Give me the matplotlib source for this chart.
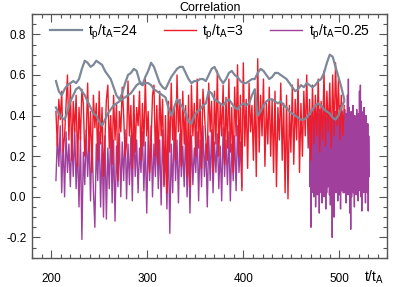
import numpy as np
import matplotlib
matplotlib.use("Agg")
import matplotlib.pyplot as plt
from matplotlib.ticker import MultipleLocator

plt.rcParams['font.family'] = ['Liberation Sans', 'DejaVu Sans']
plt.rcParams['mathtext.fontset'] = 'custom'
plt.rcParams['mathtext.rm'] = 'Liberation Sans'
plt.rcParams['mathtext.it'] = 'Liberation Sans'
plt.rcParams['mathtext.default'] = 'regular'

# ---- data ----
# t_p/t_A = 24 : two slow runs, sampled every 3 t_A from 205 to 505
gray_t0, gray_t1 = 205, 505
gray_a = [0.57, 0.52, 0.50, 0.53, 0.55, 0.56, 0.57, 0.56, 0.58, 0.63,
          0.67, 0.66, 0.64, 0.65, 0.67, 0.66, 0.65, 0.62, 0.60, 0.58,
          0.54, 0.50, 0.48, 0.51, 0.56, 0.60, 0.61, 0.63, 0.62, 0.57,
          0.55, 0.59, 0.62, 0.66, 0.64, 0.60, 0.56, 0.54, 0.53, 0.56,
          0.59, 0.61, 0.63, 0.64, 0.64, 0.61, 0.58, 0.56, 0.57, 0.57,
          0.58, 0.58, 0.57, 0.60, 0.63, 0.64, 0.61, 0.58, 0.56, 0.58,
          0.61, 0.62, 0.60, 0.59, 0.57, 0.56, 0.56, 0.57, 0.58, 0.58,
          0.61, 0.63, 0.62, 0.60, 0.58, 0.59, 0.61, 0.61, 0.60, 0.59,
          0.58, 0.56, 0.54, 0.52, 0.53, 0.55, 0.54, 0.56, 0.55, 0.54,
          0.55, 0.57, 0.58, 0.61, 0.66, 0.70, 0.69, 0.64, 0.59, 0.54,
          0.48]
gray_b = [0.44, 0.41, 0.39, 0.38, 0.42, 0.47, 0.50, 0.53, 0.54, 0.52,
          0.50, 0.47, 0.44, 0.41, 0.40, 0.37, 0.35, 0.38, 0.41, 0.43,
          0.45, 0.46, 0.47, 0.48, 0.49, 0.50, 0.51, 0.53, 0.55, 0.56,
          0.55, 0.56, 0.56, 0.55, 0.53, 0.52, 0.51, 0.50, 0.49, 0.44,
          0.40, 0.44, 0.48, 0.46, 0.44, 0.41, 0.37, 0.36, 0.40, 0.42,
          0.43, 0.45, 0.46, 0.52, 0.51, 0.48, 0.47, 0.46, 0.45, 0.47,
          0.48, 0.46, 0.44, 0.43, 0.45, 0.46, 0.45, 0.46, 0.50, 0.53,
          0.40, 0.42, 0.45, 0.47, 0.48, 0.48, 0.47, 0.46, 0.47, 0.45,
          0.44, 0.42, 0.41, 0.40, 0.39, 0.38, 0.38, 0.39, 0.41, 0.43,
          0.45, 0.46, 0.45, 0.43, 0.42, 0.41, 0.39, 0.38, 0.40, 0.44,
          0.47]

# t_p/t_A = 3 : sampled every 1.5 t_A from 205 to 505
red_t0, red_t1 = 205, 505
red = [0.42, 0.25, 0.48, 0.38, 0.52, 0.22, 0.30, 0.45, 0.60, 0.28,
       0.55, 0.18, 0.47, 0.32, 0.50, 0.15, 0.44, 0.28, 0.53, 0.46,
       0.20, 0.30, 0.56, 0.22, 0.42, 0.12, 0.50, 0.34, 0.46, 0.18,
       0.52, 0.26, 0.44, 0.10, 0.28, 0.48, 0.55, 0.24, 0.40, 0.16,
       0.50, 0.28, 0.46, 0.08, 0.42, 0.32, 0.54, 0.40, 0.20, 0.26,
       0.57, 0.30, 0.45, 0.14, 0.50, 0.22, 0.44, 0.35, 0.52, 0.18,
       0.46, 0.25, 0.58, 0.30, 0.42, 0.12, 0.26, 0.50, 0.55, 0.20,
       0.45, 0.16, 0.52, 0.30, 0.48, 0.05, 0.40, 0.02, 0.47, 0.22,
       0.56, 0.28, 0.44, 0.18, 0.60, 0.32, 0.48, 0.15, 0.52, 0.26,
       0.45, 0.10, 0.50, 0.05, 0.55, 0.30, 0.46, 0.20, 0.58, 0.24,
       0.48, 0.14, 0.53, 0.42, 0.28, 0.18, 0.56, 0.32, 0.47, 0.12,
       0.52, 0.26, 0.62, 0.20, 0.46, 0.30, 0.55, 0.16, 0.49, 0.24,
       0.58, 0.22, 0.44, 0.12, 0.54, 0.30, 0.65, 0.20, 0.50, 0.03,
       0.66, 0.25, 0.48, 0.14, 0.56, 0.32, 0.45, 0.18, 0.52, 0.10,
       0.68, 0.22, 0.50, 0.30, 0.58, 0.15, 0.46, 0.26, 0.54, 0.20,
       0.48, 0.12, 0.52, 0.05, 0.44, 0.28, 0.56, 0.18, 0.46, 0.02,
       0.50, -0.01, 0.45, 0.22, 0.55, 0.16, 0.48, 0.28, 0.58, 0.12,
       0.46, 0.20, 0.52, 0.30, 0.60, 0.24, 0.48, 0.18, 0.55, 0.26,
       0.50, 0.30, 0.58, 0.22, 0.47, 0.28, 0.62, 0.25, 0.52, 0.32,
       0.56, 0.24, 0.60, 0.30, 0.66, 0.35, 0.58, 0.28, 0.50, 0.30,
       0.45]

# t_p/t_A = 0.25 : first stretch every 1.5 t_A (205 to 398.5)
purple_t0, purple_t1 = 205, 398.5
purple = [0.08, 0.30, 0.15, 0.35, 0.02, 0.28, 0.00, 0.32, 0.12, 0.26,
          0.05, 0.30, 0.10, 0.34, 0.04, 0.25, -0.05, 0.30, -0.21, 0.22,
          0.06, 0.33, 0.10, 0.28, -0.02, 0.30, 0.03, -0.15, 0.26, 0.08,
          0.32, -0.05, 0.27, -0.10, 0.30, -0.11, 0.24, 0.04, 0.34, -0.03,
          0.28, -0.12, 0.25, 0.05, 0.31, 0.00, 0.27, 0.08, 0.33, -0.01,
          0.26, 0.06, 0.30, -0.02, 0.35, 0.10, 0.28, 0.02, 0.24, 0.12,
          0.32, 0.03, 0.27, -0.08, 0.30, 0.08, 0.35, 0.00, 0.26, 0.10,
          0.31, 0.04, 0.28, -0.04, 0.33, 0.06, 0.24, -0.06, 0.30, -0.18,
          0.26, 0.02, 0.34, 0.08, 0.28, -0.03, 0.31, 0.10, 0.25, 0.05,
          0.33, 0.00, 0.27, -0.08, 0.30, 0.06, 0.24, 0.12, 0.32, -0.02,
          0.28, 0.05, 0.35, 0.10, 0.26, -0.05, 0.30, 0.08, 0.33, 0.02,
          0.27, 0.12, 0.31, 0.04, 0.25, -0.02, 0.34, 0.10, 0.28, 0.06,
          0.32, -0.02, 0.26, 0.08, 0.30, 0.03, 0.35, 0.12, 0.27, 0.05]

# fast-sampled stretch (469 to 531): successive highs and lows
dense_t0, dense_t1 = 469, 531
dense_hi = [0.36, 0.40, 0.33, 0.42, 0.38, 0.30, 0.44, 0.39, 0.35, 0.41,
            0.37, 0.43, 0.34, 0.40, 0.38, 0.45, 0.36, 0.42, 0.33, 0.39,
            0.41, 0.37, 0.44, 0.35, 0.40, 0.38, 0.43, 0.36, 0.42, 0.39,
            0.34, 0.41, 0.37, 0.45, 0.38, 0.42, 0.40, 0.36, 0.43, 0.38,
            0.41, 0.50, 0.58, 0.44, 0.37, 0.42, 0.39, 0.45, 0.36, 0.40,
            0.36, 0.43, 0.38, 0.41, 0.52, 0.55, 0.47, 0.37, 0.42, 0.44,
            0.38, 0.40, 0.34, 0.36, 0.30]
dense_lo = [0.05, -0.15, 0.02, 0.08, 0.00, 0.04, -0.05, 0.06, 0.01, 0.03,
            -0.08, 0.05, 0.02, -0.03, 0.07, 0.00, 0.04, -0.06, 0.02, 0.05,
            0.05, 0.01, -0.04, 0.06, -0.20, 0.00, -0.10, 0.04, 0.02, 0.07,
            -0.02, 0.05, 0.01, -0.06, 0.03, 0.08, 0.02, 0.02, 0.04, -0.03,
            0.06, 0.01, 0.05, -0.08, -0.16, 0.00, 0.07, 0.02, -0.05, 0.04,
            0.01, 0.06, -0.02, 0.03, 0.05, 0.00, -0.07, 0.04, 0.02, 0.06,
            -0.03, 0.05, 0.02, -0.07, 0.10]

labels = [r'$t_p/t_A$=24', r'$t_p/t_A$=3', r'$t_p/t_A$=0.25']
colors = ['#7d8898', '#ee1c2a', '#a0409c']

# ---- plot ----
fig = plt.figure(figsize=(3.99, 2.87), dpi=100)
ax = fig.add_axes([0.080, 0.102, 0.891, 0.849])

dense = np.column_stack([dense_hi, dense_lo]).ravel()
ax.plot(np.linspace(purple_t0, purple_t1, len(purple)), purple,
        color=colors[2], lw=1.0, label=labels[2])
ax.plot(np.linspace(dense_t0, dense_t1, len(dense)), dense,
        color=colors[2], lw=1.0)
ax.plot(np.linspace(red_t0, red_t1, len(red)), red,
        color=colors[1], lw=1.0, label=labels[1])
tg = np.linspace(gray_t0, gray_t1, len(gray_a))
ax.plot(tg, gray_a, color=colors[0], lw=1.6, label=labels[0])
ax.plot(tg, gray_b, color=colors[0], lw=1.6)

ax.set_xlim(180, 550)
ax.set_ylim(-0.3, 0.9)
ax.xaxis.set_major_locator(MultipleLocator(100))
ax.xaxis.set_minor_locator(MultipleLocator(10))
ax.yaxis.set_major_locator(MultipleLocator(0.2))
ax.yaxis.set_minor_locator(MultipleLocator(0.05))
ax.yaxis.set_major_formatter(matplotlib.ticker.FormatStrFormatter('%.1f'))

edge = '#555555'
for s in ax.spines.values():
    s.set_color(edge)
    s.set_linewidth(1.0)
ax.tick_params(which='both', direction='in', top=True, right=True,
               colors=edge, labelcolor='black', labelsize=8.5)
ax.tick_params(which='major', length=6, width=0.8)
ax.tick_params(which='minor', length=3, width=0.8)
ax.tick_params(axis='x', which='major', pad=11)
ax.tick_params(axis='y', which='major', pad=4)

ax.set_title('Correlation', fontsize=9, pad=2)
ax.text(0.962, -0.10, r'$t/t_A$', transform=ax.transAxes,
        ha='center', va='baseline', fontsize=10)

h, l = ax.get_legend_handles_labels()
order = [2, 1, 0]
ax.legend([h[i] for i in order], [l[i] for i in order], ncol=3,
          loc='upper center', bbox_to_anchor=(0.5, 1.0), frameon=False,
          fontsize=10, handlelength=2.3, handletextpad=0.45,
          columnspacing=1.9, borderaxespad=0.2)

fig.savefig('out.png', dpi=100)
